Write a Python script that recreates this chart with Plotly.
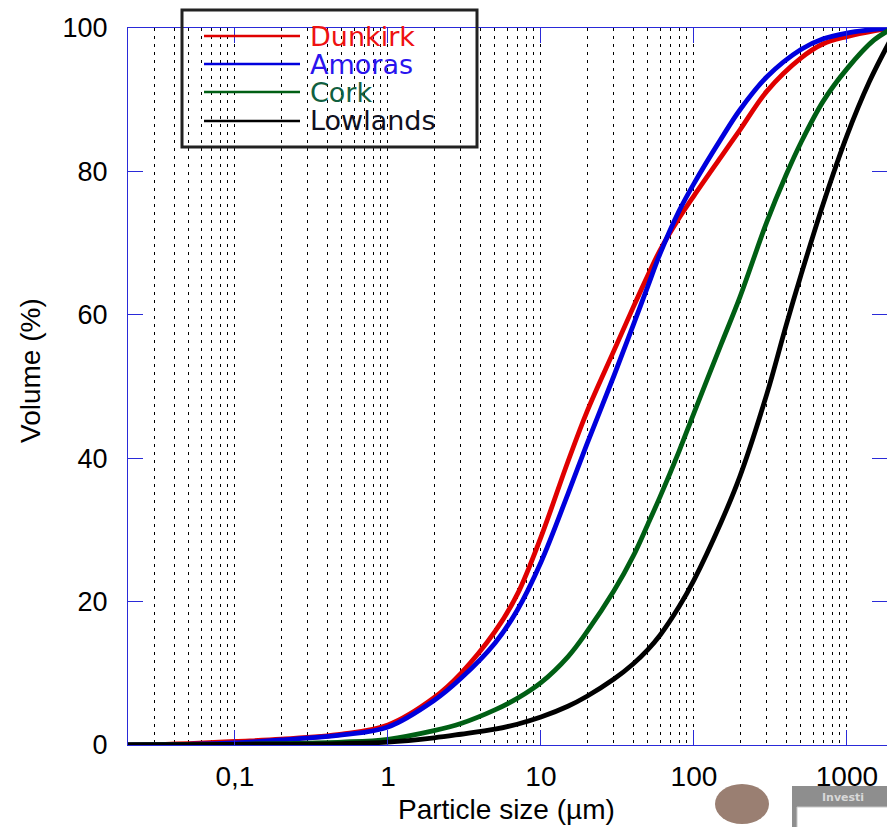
import plotly.graph_objects as go
import numpy as np

# ---- data ----
series_names = ["Dunkirk", "Amoras", "Cork", "Lowlands"]
series_colors = ["#e00000", "#0000dd", "#005f14", "#000000"]
legend_text_colors = ["#ee1111", "#2a14ee", "#106040", "#101020"]

dunkirk_x = [0.02, 0.035, 0.05, 0.1, 0.2, 0.5, 1, 2, 3, 5, 7, 10, 15, 20, 30, 40, 50, 60, 80, 100, 150, 200, 300, 500, 700, 1000, 1500, 2000]
dunkirk_y = [0, 0.1, 0.2, 0.5, 0.8, 1.5, 2.8, 6.6, 10, 15.8, 21, 29, 39.5, 46.5, 55, 61, 65.5, 69, 73.5, 76.6, 82, 85.8, 91.2, 95.8, 97.8, 98.8, 99.6, 100]

amoras_x = [0.02, 0.035, 0.05, 0.1, 0.2, 0.5, 1, 2, 3, 5, 7, 10, 15, 20, 30, 40, 50, 60, 80, 100, 150, 200, 300, 500, 700, 1000, 1500, 2000]
amoras_y = [0, 0.05, 0.1, 0.3, 0.7, 1.4, 2.5, 6.2, 9.3, 14.2, 18.8, 25.5, 35, 42, 51.5, 58.5, 64, 68.5, 74.5, 78.3, 84.5, 88.6, 93.2, 97, 98.5, 99.3, 99.8, 100]

cork_x = [0.02, 0.05, 0.1, 0.2, 0.5, 1, 2, 3, 5, 7, 10, 15, 20, 30, 40, 50, 60, 80, 100, 150, 200, 300, 400, 500, 700, 1000, 1500, 2000]
cork_y = [0, 0.05, 0.1, 0.2, 0.4, 0.8, 2, 3, 4.9, 6.5, 8.7, 12.3, 15.8, 21.5, 26.3, 30.8, 34.6, 41, 46.3, 55.8, 62.5, 73, 79.5, 84, 89.8, 94.3, 98.3, 100]

lowlands_x = [0.02, 0.1, 0.5, 1, 2, 3, 5, 7, 10, 15, 20, 30, 40, 50, 60, 80, 100, 150, 200, 300, 400, 500, 700, 1000, 1400, 2000]
lowlands_y = [0, 0.1, 0.2, 0.4, 1, 1.5, 2.2, 2.9, 3.9, 5.4, 6.8, 9.2, 11.3, 13.3, 15.3, 19.3, 23, 31, 37.5, 49, 58.5, 65.5, 75.5, 85, 92.5, 99]

x_tick_vals = [0.1, 1, 10, 100, 1000]
x_tick_text = ["0,1", "1", "10", "100", "1000"]
y_tick_vals = [0, 20, 40, 60, 80, 100]

x_title = "Particle size (µm)"
y_title = "Volume (%)"

all_x = [dunkirk_x, amoras_x, cork_x, lowlands_x]
all_y = [dunkirk_y, amoras_y, cork_y, lowlands_y]

# ---- layout geometry (page pixels; body margin removed below) ----
W, H = 887, 827
P_LEFT, P_RIGHT, P_TOP, P_BOTTOM = 128, 887, 28, 745
ML, MR, MT, MB = P_LEFT, W - P_RIGHT, P_TOP, H - P_BOTTOM
PW, PH = P_RIGHT - P_LEFT, P_BOTTOM - P_TOP

def px2paper_x(px):
    return (px - P_LEFT) / PW

def px2paper_y(py):
    return (P_BOTTOM - py) / PH

fig = go.Figure()
for name, col, xs, ys in zip(series_names, series_colors, all_x, all_y):
    fig.add_trace(go.Scatter(x=xs, y=ys, mode="lines", name=name,
                             line=dict(color=col, width=4.8, shape="spline", smoothing=1.0),
                             showlegend=False))

axis_blue = "#2a2ad8"
minor_vals = [k * 10.0 ** n for n in range(-2, 4) for k in range(2, 10)]

fig.update_xaxes(
    type="log",
    range=[np.log10(0.02), np.log10(0.02) + PW / 153.0],
    tickvals=x_tick_vals, ticktext=x_tick_text,
    ticks="inside", ticklen=15, tickcolor=axis_blue, tickwidth=1,
    showline=True, linecolor=axis_blue, linewidth=1, mirror="ticks",
    showgrid=True, gridcolor="#000000", gridwidth=1, griddash="3px,5px",
    minor=dict(tickvals=minor_vals, showgrid=True, gridcolor="#000000", gridwidth=1,
               griddash="3px,5px", ticks=""),
    tickfont=dict(family="Liberation Sans, Arial", size=28, color="#000000"),
    ticklabelstandoff=6,
    zeroline=False,
)
fig.update_yaxes(
    range=[0, 100],
    tickvals=y_tick_vals,
    ticks="inside", ticklen=15, tickcolor=axis_blue, tickwidth=1,
    showline=True, linecolor=axis_blue, linewidth=1, mirror="ticks",
    showgrid=False, zeroline=False,
    tickfont=dict(family="Liberation Sans, Arial", size=27, color="#000000"),
    ticklabelstandoff=14,
)

shapes = []
annotations = []

# custom legend box
lx0, lx1 = px2paper_x(182), px2paper_x(477)
ly0, ly1 = px2paper_y(147), px2paper_y(10)
shapes.append(dict(type="rect", xref="paper", yref="paper", x0=lx0, x1=lx1, y0=ly0, y1=ly1,
                   line=dict(color="#222222", width=3), fillcolor="rgba(0,0,0,0)", layer="above"))
row_py = [36, 64, 92, 121]
for name, col, tcol, py in zip(series_names, series_colors, legend_text_colors, row_py):
    yy = px2paper_y(py)
    shapes.append(dict(type="line", xref="paper", yref="paper",
                       x0=px2paper_x(204), x1=px2paper_x(300), y0=yy, y1=yy,
                       line=dict(color=col, width=2.5), layer="above"))
    annotations.append(dict(xref="paper", yref="paper", x=px2paper_x(308), y=yy,
                            text=name, showarrow=False, xanchor="left", yanchor="middle",
                            font=dict(family="DejaVu Sans", size=27, color=tcol)))

# axis titles
annotations.append(dict(xref="paper", yref="paper", x=px2paper_x(506), y=px2paper_y(809),
                        text=x_title, showarrow=False, xanchor="center", yanchor="middle",
                        font=dict(family="Liberation Sans, Arial", size=28, color="#000000")))
annotations.append(dict(xref="paper", yref="paper", x=px2paper_x(30), y=px2paper_y(370),
                        text=y_title, showarrow=False, textangle=-90, xanchor="center", yanchor="middle",
                        font=dict(family="Liberation Sans, Arial", size=28, color="#000000")))

# slide remnants at bottom right
shapes.append(dict(type="circle", xref="paper", yref="paper",
                   x0=px2paper_x(715), x1=px2paper_x(769), y0=px2paper_y(824), y1=px2paper_y(784),
                   fillcolor="#9a7f72", line=dict(width=0)))
shapes.append(dict(type="rect", xref="paper", yref="paper",
                   x0=px2paper_x(792), x1=px2paper_x(887), y0=px2paper_y(827), y1=px2paper_y(786),
                   fillcolor="#8e8e8e", line=dict(width=0)))
shapes.append(dict(type="rect", xref="paper", yref="paper",
                   x0=px2paper_x(797), x1=px2paper_x(890), y0=px2paper_y(830), y1=px2paper_y(807),
                   fillcolor="#ffffff", line=dict(color="#c8c8c8", width=1)))
annotations.append(dict(xref="paper", yref="paper", x=px2paper_x(820), y=px2paper_y(797),
                        text="<b>Investi</b>", showarrow=False, xanchor="left", yanchor="middle",
                        font=dict(family="DejaVu Sans", size=11, color="#d8d8d8")))

fig.update_layout(
    width=W, height=H,
    margin=dict(l=ML, r=MR, t=MT, b=MB, pad=0),
    paper_bgcolor="#ffffff", plot_bgcolor="#ffffff",
    shapes=shapes, annotations=annotations,
    showlegend=False,
)

fig.write_html("out.html", config={"displayModeBar": False},
               post_script="document.body.style.margin='0';document.body.style.overflow='hidden';")
